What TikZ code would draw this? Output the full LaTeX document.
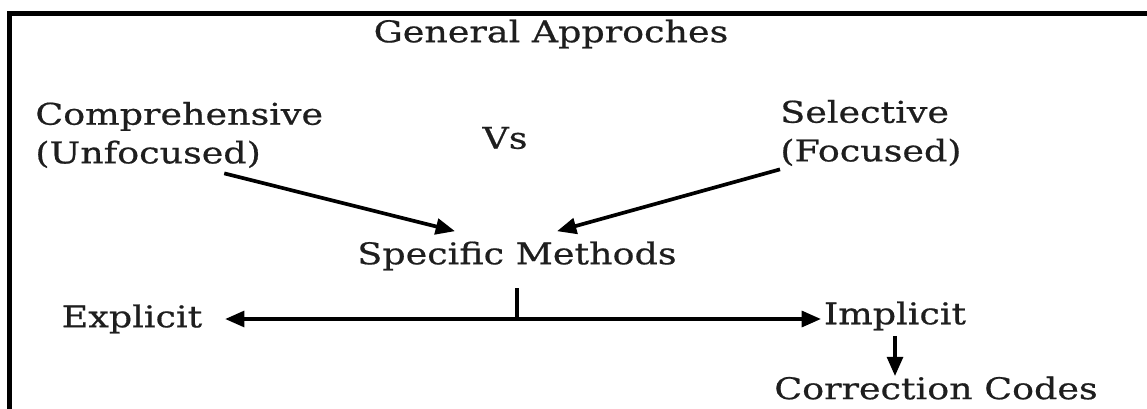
\documentclass[tikz,border=0pt]{standalone}
\usepackage{fontspec}
\setmainfont{DejaVu Serif}[FakeStretch=1.22,FakeBold=0.6]
\usepackage{tikz}
\usetikzlibrary{arrows.meta}
\definecolor{inkgray}{RGB}{30,30,30}

\begin{document}
\begin{tikzpicture}[
  lbl/.style={inner sep=0pt, text=inkgray, font=\fontsize{17}{22}\selectfont},
  arr/.style={-{Triangle[length=11pt,width=9pt]}, line width=2.1pt}]
  \useasboundingbox (0,0) rectangle (22.94,-8.16);
  \draw[line width=2.8pt] (0.19,-8.4) -- (0.19,-0.27) -- (23.2,-0.27);
  \node[lbl] (title) at (11.02,-0.68) {General Approches};
  \node[lbl,anchor=west,align=left] (comp) at (0.70,-2.70) {Comprehensive\\(Unfocused)};
  \node[lbl] (vs) at (10.10,-2.76) {Vs};
  \node[lbl,anchor=west,align=left] (sel) at (15.60,-2.66) {Selective\\(Focused)};
  \node[lbl] (spec) at (10.34,-5.12) {Specific Methods};
  \node[lbl] (expl) at (2.64,-6.38) {Explicit};
  \node[lbl] (impl) at (17.90,-6.32) {Implicit};
  \node[lbl] (codes) at (18.72,-7.76) {Correction Codes};
  \coordinate (split) at (spec |- expl);
  \draw[arr] ([xshift=0.9cm,yshift=-0.1cm]comp.south) -- ([xshift=-1.24cm,yshift=0.2cm]spec.north);
  \draw[arr] ([yshift=-0.06cm]sel.south west) -- ([xshift=0.8cm,yshift=0.2cm]spec.north);
  \draw[line width=2.4pt] ([yshift=-0.35cm]spec.south) -- (split);
  \draw[arr] (split) -- ([xshift=0.45cm]expl.east |- split);
  \draw[arr] (split) -- ([xshift=-0.05cm]impl.west |- split);
  \draw[arr] ([yshift=-0.1cm]impl.south) -- (impl.south |- codes.north);
\end{tikzpicture}
\end{document}
